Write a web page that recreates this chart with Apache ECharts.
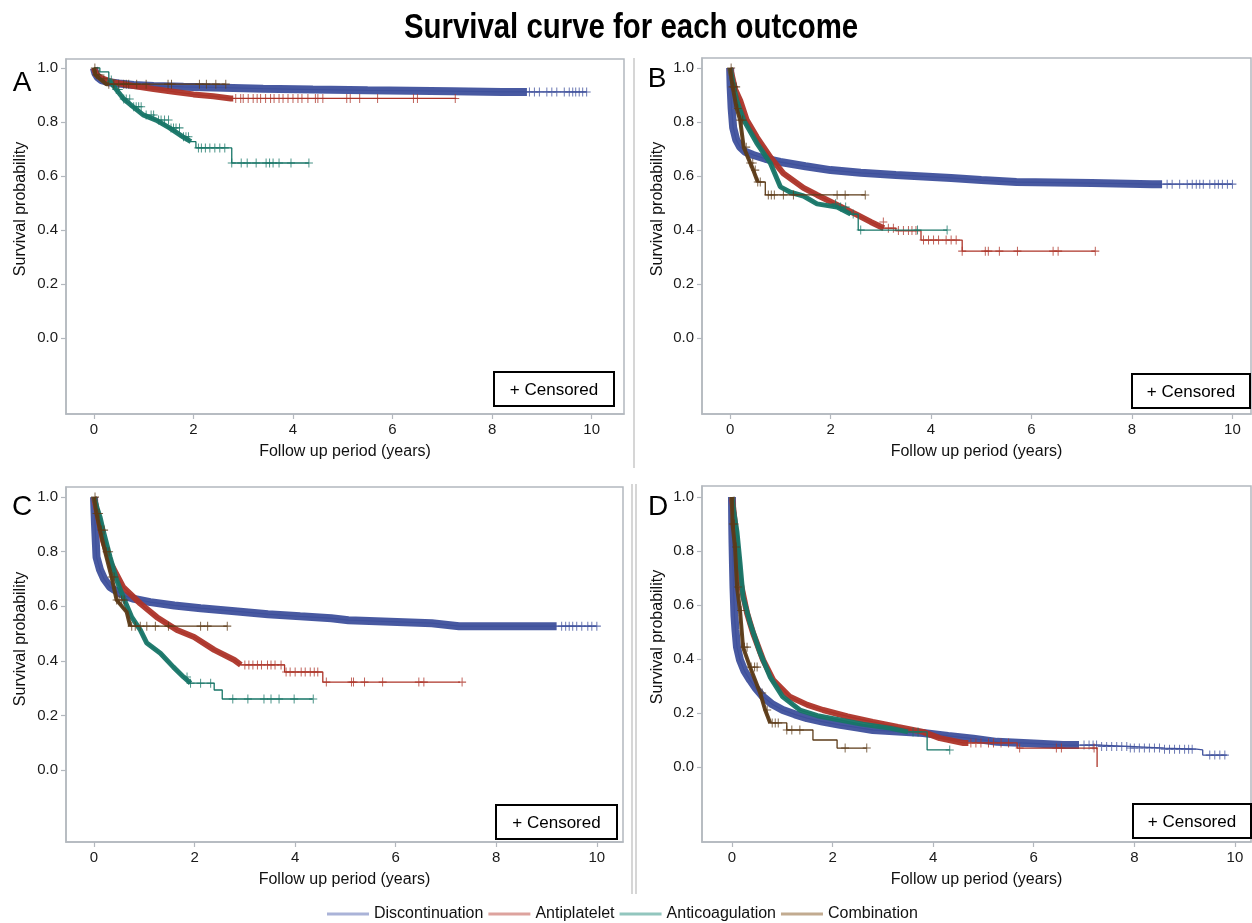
<!DOCTYPE html>
<html>
<head>
<meta charset="utf-8">
<script src="https://cdn.jsdelivr.net/npm/echarts@6/dist/echarts.min.js"></script>
<style>
html,body{margin:0;padding:0;background:#fff;}
#main{width:1252px;height:923px;}
</style>
</head>
<body>
<div id="main"></div>
<script>
var groupNames = ['Discontinuation', 'Antiplatelet', 'Anticoagulation', 'Combination'];
var lineColors = ['#3e509c', '#ad3429', '#177567', '#5c3b18'];
var legendColors = ['#aab3d8', '#dda39e', '#92c6be', '#c2ab90'];
var bandWidths = [8, 6, 5, 4];
var xTicks = [0, 2, 4, 6, 8, 10];
var yTicks = [0, 0.2, 0.4, 0.6, 0.8, 1.0];
var panelLetters = ['A', 'B', 'C', 'D'];

// ---- A ----
var curveA_disc = [[0,1],[0.03,0.98],[0.08,0.965],[0.15,0.955],[0.3,0.947],[0.5,0.942],[0.8,0.937],[1.2,0.933],[1.8,0.93],[2.6,0.927],[3.4,0.923],[4.4,0.92],[5.5,0.917],[7.2,0.914],[8.2,0.911],[9.9,0.911]];
var curveA_anti = [[0,1],[0.05,0.975],[0.15,0.962],[0.3,0.952],[0.5,0.943],[0.8,0.933],[1.2,0.922],[1.6,0.912],[2.0,0.902],[2.4,0.895],[2.75,0.887],[7.28,0.887]];
var curveA_coag = [[0,1],[0.12,0.985],[0.3,0.955],[0.45,0.92],[0.6,0.885],[0.79,0.856],[0.99,0.826],[1.25,0.807],[1.52,0.778],[1.79,0.745],[1.95,0.727],[2.05,0.704],[2.77,0.648],[4.32,0.648]];
var curveA_comb = [[0,1],[0.03,0.975],[0.12,0.96],[0.25,0.94],[2.65,0.94]];
var bandsA = [[0.0,8.7],[0.0,2.8],[0.3,1.95],[0,0.3]];
var censorA_disc = [8.75,8.85,8.95,9.1,9.2,9.3,9.45,9.55,9.62,9.68,9.75,9.82,9.9];
var censorA_anti = [2.85,2.95,3.0,3.1,3.2,3.28,3.35,3.45,3.55,3.62,3.72,3.8,3.9,4.0,4.1,4.18,4.3,4.45,4.5,4.6,5.08,5.15,5.34,5.7,6.42,6.5,7.26];
var censorA_coag = [0.35,0.45,0.5,0.6,0.65,0.72,0.8,0.85,0.9,0.95,1.05,1.15,1.2,1.3,1.35,1.42,1.5,1.55,1.6,1.65,1.72,1.8,1.85,1.9,2.1,2.16,2.24,2.33,2.43,2.53,2.63,2.77,2.96,3.08,3.26,3.46,3.53,3.6,3.72,3.96,4.32];
var censorA_comb = [0.02,0.05,0.1,0.2,0.3,0.4,0.5,0.6,0.65,0.7,0.86,1.05,1.49,1.56,2.12,2.26,2.45,2.65];

// ---- B ----
var curveB_disc = [[0,1],[0.01,0.93],[0.03,0.85],[0.06,0.78],[0.12,0.735],[0.2,0.707],[0.3,0.69],[0.46,0.678],[0.7,0.664],[1.0,0.652],[1.5,0.636],[2.0,0.622],[2.6,0.612],[3.3,0.604],[4.4,0.593],[5.0,0.585],[5.7,0.578],[7.2,0.574],[8.4,0.57],[10.0,0.57]];
var curveB_anti = [[0,1],[0.05,0.96],[0.1,0.92],[0.2,0.88],[0.33,0.807],[0.53,0.744],[0.8,0.67],[1.06,0.61],[1.46,0.556],[1.73,0.53],[2.13,0.493],[2.53,0.456],[2.8,0.43],[3.06,0.407],[3.3,0.398],[3.8,0.363],[4.62,0.322],[7.27,0.322]];
var curveB_coag = [[0,1],[0.05,0.95],[0.13,0.88],[0.27,0.807],[0.53,0.722],[0.8,0.648],[1.0,0.56],[1.2,0.54],[1.46,0.526],[1.73,0.497],[2.13,0.485],[2.4,0.459],[2.55,0.4],[4.32,0.4]];
var curveB_comb = [[0,1],[0.05,0.93],[0.13,0.85],[0.2,0.807],[0.27,0.707],[0.4,0.648],[0.46,0.622],[0.55,0.578],[0.7,0.53],[2.69,0.53]];
var bandsB = [[0.0,8.6],[0.0,3.06],[0.0,2.4],[0.0,0.55]];
var censorB_disc = [8.7,8.8,8.95,9.1,9.2,9.28,9.35,9.42,9.55,9.65,9.72,9.8,9.9,10.0];
var censorB_anti = [3.05,3.15,3.25,3.35,3.45,3.55,3.62,3.7,3.85,3.95,4.05,4.15,4.3,4.4,4.5,4.62,5.08,5.14,5.36,5.72,6.43,6.53,7.27];
var censorB_coag = [2.1,2.2,2.3,2.45,2.6,3.73,4.32];
var censorB_comb = [0.02,0.05,0.08,0.12,0.15,0.2,0.25,0.32,0.4,0.45,0.5,0.55,0.6,0.76,0.82,0.88,1.06,1.26,2.13,2.29,2.69];

// ---- C ----
var curveC_disc = [[0,1],[0.02,0.9],[0.05,0.78],[0.12,0.733],[0.2,0.7],[0.32,0.67],[0.58,0.64],[0.8,0.627],[1.12,0.615],[1.6,0.603],[2.12,0.593],[2.8,0.582],[3.46,0.571],[4.1,0.563],[4.72,0.556],[5.06,0.549],[6.72,0.538],[7.26,0.527],[10.0,0.527]];
var curveC_anti = [[0,1],[0.08,0.93],[0.18,0.84],[0.32,0.762],[0.58,0.67],[0.92,0.61],[1.25,0.56],[1.65,0.513],[1.99,0.487],[2.39,0.44],[2.79,0.403],[2.92,0.385],[3.79,0.359],[4.55,0.322],[7.28,0.322]];
var curveC_coag = [[0,1],[0.06,0.96],[0.12,0.927],[0.18,0.879],[0.32,0.78],[0.45,0.696],[0.58,0.634],[0.75,0.56],[0.92,0.513],[1.05,0.465],[1.32,0.428],[1.58,0.377],[1.78,0.341],[1.92,0.318],[2.39,0.293],[2.55,0.26],[4.35,0.26]];
var curveC_comb = [[0,1],[0.05,0.94],[0.12,0.879],[0.22,0.8],[0.35,0.707],[0.45,0.623],[0.65,0.579],[0.72,0.527],[2.65,0.527]];
var bandsC = [[0.0,9.2],[0.0,2.92],[0.0,1.92],[0.0,0.72]];
var censorC_disc = [9.3,9.38,9.45,9.52,9.6,9.7,9.82,9.9,10.0];
var censorC_anti = [3.0,3.08,3.16,3.25,3.33,3.45,3.52,3.6,3.72,3.82,3.9,4.0,4.12,4.2,4.3,4.38,4.45,4.62,5.12,5.16,5.38,5.74,6.46,6.56,7.32];
var censorC_coag = [1.85,1.92,2.12,2.32,2.76,3.06,3.38,3.52,3.68,3.98,4.36];
var censorC_comb = [0.02,0.05,0.1,0.15,0.2,0.25,0.3,0.35,0.4,0.45,0.5,0.55,0.6,0.75,0.82,0.92,1.05,1.22,1.48,2.12,2.26,2.65];

// ---- D ----
var curveD_disc = [[0,1],[0.005,0.9],[0.01,0.84],[0.02,0.75],[0.03,0.667],[0.05,0.56],[0.07,0.507],[0.1,0.444],[0.16,0.396],[0.25,0.355],[0.36,0.322],[0.48,0.29],[0.62,0.26],[0.8,0.232],[1.01,0.211],[1.25,0.195],[1.49,0.181],[1.8,0.168],[2.15,0.156],[2.5,0.146],[2.8,0.137],[3.3,0.131],[3.8,0.126],[4.3,0.115],[4.8,0.105],[5.27,0.093],[6.0,0.087],[6.58,0.081],[7.3,0.076],[7.91,0.07],[8.6,0.066],[9.24,0.063],[9.36,0.044],[9.84,0.044]];
var curveD_anti = [[0,1],[0.03,0.95],[0.06,0.9],[0.1,0.815],[0.16,0.693],[0.3,0.57],[0.42,0.496],[0.62,0.396],[0.82,0.322],[1.15,0.26],[1.5,0.23],[1.81,0.211],[2.3,0.187],[2.8,0.167],[3.3,0.148],[3.8,0.13],[4.13,0.107],[4.6,0.089],[5.67,0.07],[7.26,0.0]];
var curveD_coag = [[0,1],[0.04,0.94],[0.1,0.87],[0.16,0.756],[0.22,0.63],[0.36,0.533],[0.56,0.422],[0.76,0.333],[1.01,0.26],[1.35,0.211],[1.7,0.19],[2.15,0.174],[2.6,0.158],[3.14,0.144],[3.5,0.13],[3.88,0.063],[4.33,0.063]];
var curveD_comb = [[0,1],[0.01,0.9],[0.06,0.815],[0.1,0.667],[0.16,0.58],[0.22,0.444],[0.36,0.37],[0.56,0.274],[0.66,0.211],[0.76,0.163],[1.09,0.137],[1.61,0.1],[2.09,0.07],[2.68,0.07]];
var bandsD = [[0.0,6.9],[0.0,4.7],[0.0,3.5],[0.0,0.76]];
var censorD_disc = [7.0,7.1,7.18,7.25,7.35,7.45,7.55,7.65,7.75,7.85,7.92,8.0,8.1,8.2,8.3,8.4,8.5,8.6,8.7,8.8,8.9,9.0,9.08,9.15,9.5,9.6,9.7,9.8];
var censorD_anti = [4.75,4.85,4.95,5.1,5.2,5.35,5.5,5.72,6.45,6.55,7.2];
var censorD_coag = [3.6,3.7,4.33];
var censorD_comb = [0.02,0.05,0.08,0.12,0.18,0.25,0.3,0.38,0.45,0.5,0.6,0.7,0.8,0.86,0.92,1.09,1.19,1.35,2.25,2.68];

// grid boxes in pixels and axis ranges
var panels = [
  {grid:{left:66, top:59, width:558, height:355}, x:[-0.56,10.65], y:[-0.281,1.033],
   curves:[curveA_disc,curveA_anti,curveA_coag,curveA_comb], bands:bandsA,
   censor:[censorA_disc,censorA_anti,censorA_coag,censorA_comb],
   letter:[22,83], ylab:[21,209], box:[494,372,120,34]},
  {grid:{left:702, top:58, width:549, height:356}, x:[-0.56,10.37], y:[-0.281,1.037],
   curves:[curveB_disc,curveB_anti,curveB_coag,curveB_comb], bands:bandsB,
   censor:[censorB_disc,censorB_anti,censorB_coag,censorB_comb],
   letter:[657,79], ylab:[658,209], box:[1132,374,118,34]},
  {grid:{left:66, top:487, width:557, height:355}, x:[-0.557,10.52], y:[-0.264,1.037],
   curves:[curveC_disc,curveC_anti,curveC_coag,curveC_comb], bands:bandsC,
   censor:[censorC_disc,censorC_anti,censorC_coag,censorC_comb],
   letter:[22,507], ylab:[21,639], box:[496,805,121,34]},
  {grid:{left:702, top:486, width:549, height:356}, x:[-0.596,10.32], y:[-0.278,1.041],
   curves:[curveD_disc,curveD_anti,curveD_coag,curveD_comb], bands:bandsD,
   censor:[censorD_disc,censorD_anti,censorD_coag,censorD_comb],
   letter:[658,507], ylab:[658,637], box:[1133,804,118,34]}
];

var plusPath = 'path://M4.4,0H5.6V4.4H10V5.6H5.6V10H4.4V5.6H0V4.4H4.4Z';
var fontFam = '"Liberation Sans", Arial, sans-serif';
var axisGray = '#b3b8be';

function stepAt(curve, t) {
  var s = curve[0][1];
  for (var i = 0; i < curve.length; i++) {
    if (curve[i][0] <= t) s = curve[i][1];
  }
  return s;
}
function clip(curve, a, b) {
  var pts = [[a, stepAt(curve, a)]];
  curve.forEach(function (p) { if (p[0] > a && p[0] < b) pts.push(p); });
  pts.push([b, stepAt(curve, b)]);
  return pts;
}
// step corners outside the dense band, straight joins inside it
function pathPoints(curve, band) {
  var pts = [curve[0]];
  for (var k = 1; k < curve.length; k++) {
    var prev = curve[k - 1], cur = curve[k];
    var inBand = band && prev[0] >= band[0] && cur[0] <= band[1];
    if (!inBand) pts.push([cur[0], prev[1]]);
    pts.push(cur);
  }
  return pts;
}

var grids = [], xAxes = [], yAxes = [], series = [], graphics = [];

panels.forEach(function (p, i) {
  grids.push(Object.assign({show:true, borderColor:axisGray, borderWidth:1.5, backgroundColor:'#fff'}, p.grid));
  xAxes.push({
    type:'value', gridIndex:i, min:p.x[0], max:p.x[1],
    name:'Follow up period (years)', nameLocation:'middle', nameGap:30,
    nameTextStyle:{fontFamily:fontFam, fontSize:16, color:'#111'},
    axisLine:{show:true, onZero:false, lineStyle:{color:axisGray, width:1.5}},
    axisTick:{show:true, length:5, customValues:xTicks, lineStyle:{color:axisGray, width:1.2}},
    axisLabel:{customValues:xTicks, margin:8, fontFamily:fontFam, fontSize:15, color:'#1a1a1a'},
    splitLine:{show:false}
  });
  yAxes.push({
    type:'value', gridIndex:i, min:p.y[0], max:p.y[1],
    axisLine:{show:true, onZero:false, lineStyle:{color:axisGray, width:1.5}},
    axisTick:{show:true, length:5, customValues:yTicks, lineStyle:{color:axisGray, width:1.2}},
    axisLabel:{customValues:yTicks, margin:8, fontFamily:fontFam, fontSize:15, color:'#1a1a1a',
      formatter:function (v) { return v.toFixed(1); }},
    splitLine:{show:false}
  });
  for (var g = 0; g < 4; g++) {
    var c = p.curves[g];
    series.push({
      type:'line', name:groupNames[g], xAxisIndex:i, yAxisIndex:i, data:pathPoints(c, p.bands[g]),
      symbol:'none', lineStyle:{color:lineColors[g], width:1.3}, itemStyle:{color:lineColors[g]},
      z:2 + g, animation:false
    });
    if (p.bands[g]) {
      // dense censor marks merge into a solid band
      series.push({
        type:'line', xAxisIndex:i, yAxisIndex:i, data:clip(c, p.bands[g][0], p.bands[g][1]),
        symbol:'none', lineStyle:{color:lineColors[g], width:bandWidths[g], opacity:0.95}, silent:true,
        z:2 + g, animation:false
      });
    }
    series.push({
      type:'scatter', xAxisIndex:i, yAxisIndex:i,
      data:p.censor[g].map(function (t) { return [t, stepAt(c, t)]; }),
      symbol:plusPath, symbolSize:[8, 9], itemStyle:{color:lineColors[g]}, silent:true,
      z:2 + g, animation:false
    });
  }
  graphics.push({type:'text', x:p.letter[0], y:p.letter[1],
    style:{text:panelLetters[i], font:'28px ' + fontFam, fill:'#000', align:'center', verticalAlign:'middle'}});
  graphics.push({type:'text', x:p.ylab[0], y:p.ylab[1], rotation:Math.PI / 2,
    style:{text:'Survival probability', font:'16px ' + fontFam, fill:'#111', align:'center', verticalAlign:'middle'}});
  graphics.push({type:'rect', shape:{x:p.box[0], y:p.box[1], width:p.box[2], height:p.box[3]},
    style:{fill:'#fff', stroke:'#000', lineWidth:2}, z:20});
  graphics.push({type:'text', x:p.box[0] + p.box[2] / 2, y:p.box[1] + p.box[3] / 2 + 1, z:21,
    style:{text:'+ Censored', font:'17px ' + fontFam, fill:'#000', align:'center', verticalAlign:'middle'}});
});

// title and panel separators
graphics.push({type:'text', x:631, y:28, scaleX:0.84,
  style:{text:'Survival curve for each outcome', font:'bold 35px ' + fontFam, fill:'#000', align:'center', verticalAlign:'middle'}});
graphics.push({type:'line', shape:{x1:634, y1:58, x2:634, y2:468}, style:{stroke:'#c9c9c9', lineWidth:1.5}});
graphics.push({type:'line', shape:{x1:632, y1:484, x2:632, y2:894}, style:{stroke:'#c9c9c9', lineWidth:1.5}});
graphics.push({type:'line', shape:{x1:636, y1:484, x2:636, y2:894}, style:{stroke:'#c9c9c9', lineWidth:1.5}});

var chart = echarts.init(document.getElementById('main'), null, {renderer:'canvas'});
chart.setOption({
  backgroundColor:'#fff',
  animation:false,
  grid:grids,
  xAxis:xAxes,
  yAxis:yAxes,
  legend:{
    left:322, top:901, itemWidth:42, itemHeight:3, itemGap:5,
    textStyle:{fontFamily:fontFam, fontSize:16, color:'#111'},
    data:groupNames.map(function (n, g) {
      return {name:n, icon:'rect', itemStyle:{color:legendColors[g]}};
    })
  },
  graphic:graphics,
  series:series
});
</script>
</body>
</html>
